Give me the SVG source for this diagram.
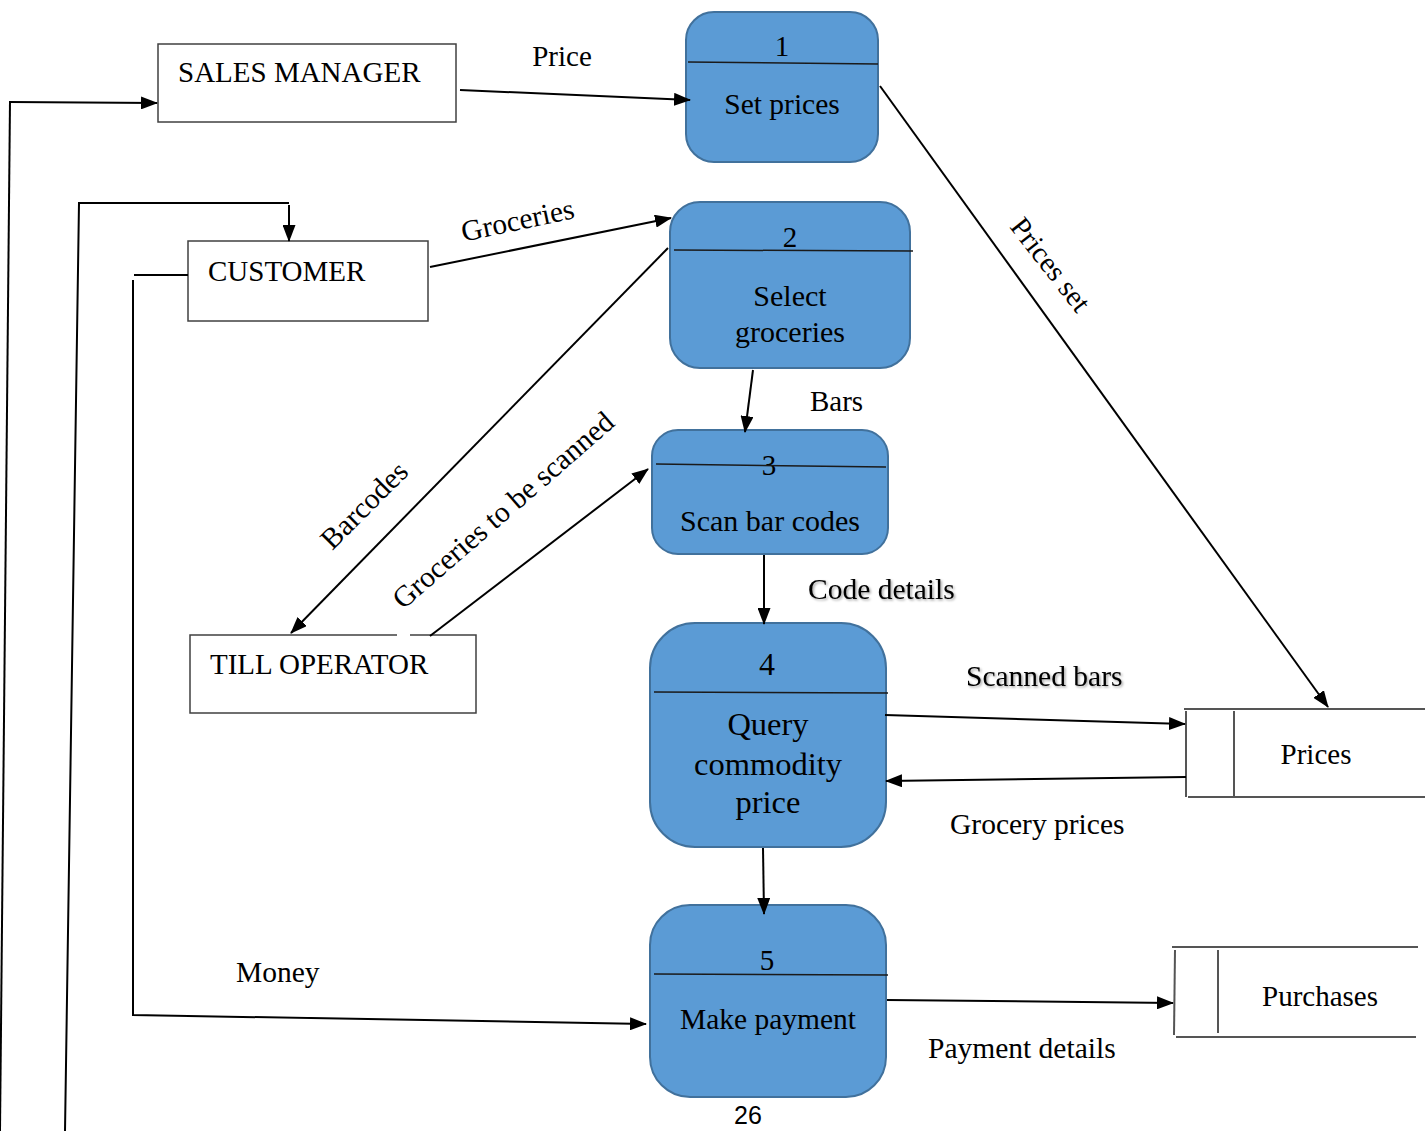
<svg xmlns="http://www.w3.org/2000/svg" width="1425" height="1131" viewBox="0 0 1425 1131">
  <style>
    .txt { font-family: "Liberation Serif", "Times New Roman", serif; fill: #000; }
    .ent { fill: #fff; stroke: #404040; stroke-width: 1.5; }
    .proc { fill: #5B9BD5; stroke: #41719C; stroke-width: 2; }
    .div { stroke: #1a1a1a; stroke-width: 1.5; fill: none; }
    .store { stroke: #555; stroke-width: 2; fill: none; }
    .flow { stroke: #000; stroke-width: 2; fill: none; }
    .arr { marker-end: url(#head); }
  </style>
  <defs>
    <marker id="head" viewBox="0 0 17 13" refX="16" refY="6.5" markerWidth="17" markerHeight="13" markerUnits="userSpaceOnUse" orient="auto">
      <path d="M0,0 L17,6.5 L0,13 Z" fill="#000"/>
    </marker>
    <filter id="soft" x="-10%" y="-30%" width="120%" height="160%">
      <feDropShadow dx="1.5" dy="1.5" stdDeviation="1" flood-color="#000" flood-opacity="0.35"/>
    </filter>
  </defs>

  <!-- external entities -->
  <g id="sales-manager">
    <rect class="ent" x="158" y="44" width="298" height="78"/>
    <text class="txt" x="178" y="82" font-size="29">SALES MANAGER</text>
  </g>
  <g id="customer">
    <rect class="ent" x="188" y="241" width="240" height="80"/>
    <text class="txt" x="208" y="281" font-size="29">CUSTOMER</text>
  </g>
  <g id="till-operator">
    <path class="ent" d="M397,635 L190,635 L190,713 L476,713 L476,635 L410,635"/>
    <text class="txt" x="210" y="674" font-size="29">TILL OPERATOR</text>
  </g>

  <!-- processes -->
  <g id="p1">
    <rect class="proc" x="686" y="12" width="192" height="150" rx="28"/>
    <line class="div" x1="688" y1="62" x2="878" y2="64"/>
    <text class="txt" x="782" y="56" font-size="29" text-anchor="middle">1</text>
    <text class="txt" x="782" y="114" font-size="29.5" text-anchor="middle">Set prices</text>
  </g>
  <g id="p2">
    <rect class="proc" x="670" y="202" width="240" height="166" rx="30"/>
    <line class="div" x1="674" y1="250" x2="913" y2="251"/>
    <text class="txt" x="790" y="247" font-size="29" text-anchor="middle">2</text>
    <text class="txt" x="790" y="306" font-size="30" text-anchor="middle">Select</text>
    <text class="txt" x="790" y="342" font-size="30" text-anchor="middle">groceries</text>
  </g>
  <g id="p3">
    <rect class="proc" x="652" y="430" width="236" height="124" rx="26"/>
    <text class="txt" x="769" y="475" font-size="29" text-anchor="middle">3</text>
    <line class="div" x1="656" y1="464" x2="886" y2="467"/>
    <text class="txt" x="770" y="531" font-size="30" text-anchor="middle">Scan bar codes</text>
  </g>
  <g id="p4">
    <rect class="proc" x="650" y="623" width="236" height="224" rx="45"/>
    <line class="div" x1="654" y1="692" x2="888" y2="693"/>
    <text class="txt" x="767" y="675" font-size="32" text-anchor="middle">4</text>
    <text class="txt" x="768" y="735" font-size="32.5" text-anchor="middle">Query</text>
    <text class="txt" x="768" y="775" font-size="32.5" text-anchor="middle">commodity</text>
    <text class="txt" x="768" y="813" font-size="32.5" text-anchor="middle">price</text>
  </g>
  <g id="p5">
    <rect class="proc" x="650" y="905" width="236" height="192" rx="40"/>
    <line class="div" x1="654" y1="974" x2="888" y2="975"/>
    <text class="txt" x="767" y="970" font-size="29" text-anchor="middle">5</text>
    <text class="txt" x="768" y="1029" font-size="29.5" text-anchor="middle">Make payment</text>
  </g>

  <!-- data stores -->
  <g id="prices">
    <line class="store" x1="1184" y1="709" x2="1425" y2="709"/>
    <line class="store" x1="1188" y1="797" x2="1425" y2="797"/>
    <line class="store" x1="1186" y1="711" x2="1186" y2="797"/>
    <line class="store" x1="1234" y1="711" x2="1234" y2="798"/>
    <text class="txt" x="1316" y="764" font-size="29" text-anchor="middle">Prices</text>
  </g>
  <g id="purchases">
    <line class="store" x1="1172" y1="947" x2="1418" y2="947"/>
    <line class="store" x1="1176" y1="1037" x2="1416" y2="1037"/>
    <line class="store" x1="1175" y1="950" x2="1174" y2="1035"/>
    <line class="store" x1="1218" y1="950" x2="1218" y2="1033"/>
    <text class="txt" x="1320" y="1006" font-size="29" text-anchor="middle">Purchases</text>
  </g>

  <!-- data flows -->
  <g id="connectors">
    <path class="flow" d="M0,1131 L10,101"/>
    <path class="flow arr" d="M10,102 L157,103"/>
    <path class="flow" d="M65,1131 L79,203 L289,203"/>
    <path class="flow arr" d="M289,205 L289,241"/>
    <path class="flow" d="M188,275 L134,275"/>
    <path class="flow arr" d="M133,280 L133,1015 L646,1024"/>
    <path class="flow arr" d="M460,90 L690,100"/>
    <path class="flow arr" d="M430,267 L671,218"/>
    <path class="flow arr" d="M668,248 L291,633"/>
    <path class="flow arr" d="M430,636 L648,469"/>
    <path class="flow arr" d="M753,370 L745,432"/>
    <path class="flow arr" d="M764,555 L764,624"/>
    <path class="flow arr" d="M880,86 L1328,707"/>
    <path class="flow arr" d="M885,715 L1185,724"/>
    <path class="flow arr" d="M1186,777 L886,781"/>
    <path class="flow arr" d="M763,848 L764,914"/>
    <path class="flow arr" d="M887,1000 L1173,1003"/>
  </g>

  <!-- flow labels -->
  <g id="labels">
    <text class="txt" x="562" y="66" font-size="29" text-anchor="middle">Price</text>
    <text class="txt" x="518" y="230" font-size="29.5" text-anchor="middle" transform="rotate(-12 518 222)">Groceries</text>
    <text class="txt" x="364" y="515" font-size="29.5" text-anchor="middle" transform="rotate(-45 364 505)">Barcodes</text>
    <text class="txt" x="503" y="520" font-size="29.5" text-anchor="middle" transform="rotate(-41 503 510)">Groceries to be scanned</text>
    <text class="txt" x="1050" y="274" font-size="29" text-anchor="middle" transform="rotate(52 1050 265)">Prices set</text>
    <text class="txt" x="810" y="411" font-size="29">Bars</text>
    <text class="txt" x="808" y="599" font-size="29.5" filter="url(#soft)">Code details</text>
    <text class="txt" x="966" y="686" font-size="29.5" filter="url(#soft)">Scanned bars</text>
    <text class="txt" x="950" y="834" font-size="29.5">Grocery prices</text>
    <text class="txt" x="236" y="982" font-size="29.5">Money</text>
    <text class="txt" x="928" y="1058" font-size="29.5">Payment details</text>
    <text x="748" y="1124" font-size="25" text-anchor="middle" font-family="'Liberation Sans', Arial, sans-serif">26</text>
  </g>
</svg>
